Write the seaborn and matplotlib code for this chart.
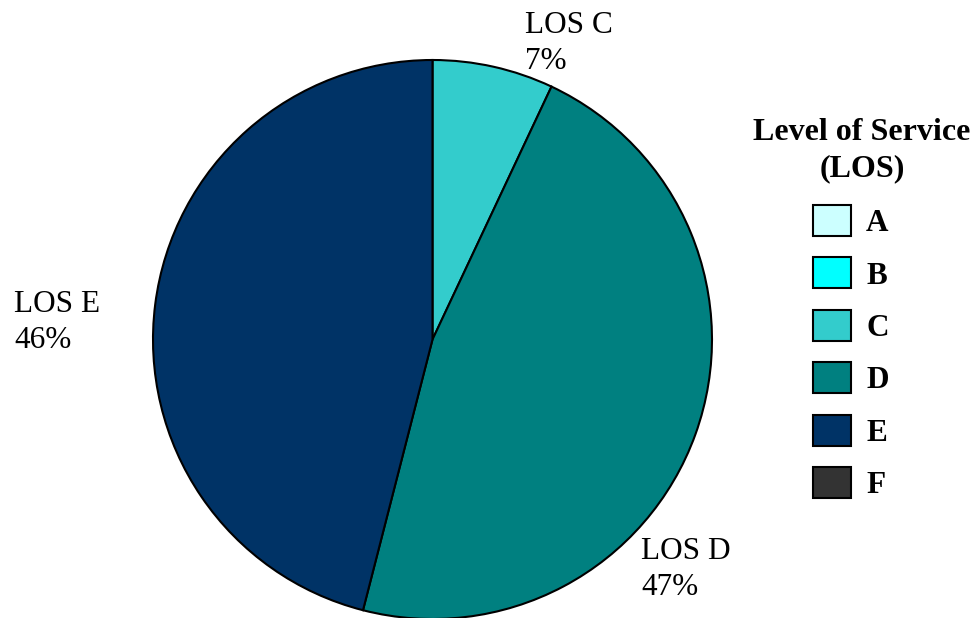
import matplotlib
matplotlib.use("Agg")
import matplotlib.pyplot as plt
from matplotlib.patches import Patch
import seaborn as sns

# Level-of-service shares
los_levels = ["A", "B", "C", "D", "E", "F"]
los_colors = ["#CCFFFF", "#00FFFF", "#33CCCC", "#008080", "#003366", "#333333"]
slice_levels = ["C", "D", "E"]
slice_shares = [7, 47, 46]
legend_title = "Level of Service\n(LOS)"

sns.set_style("white")
plt.rcParams["font.family"] = ["Liberation Serif", "DejaVu Serif"]
plt.rcParams["text.color"] = "black"

palette = dict(zip(los_levels, sns.color_palette(los_colors)))

fig = plt.figure(figsize=(9.76, 6.18), dpi=100)
ax = fig.add_axes([153 / 976, (618 - 619) / 618, 559 / 976, 559 / 618])

wedges, _ = ax.pie(
    slice_shares,
    colors=[palette[l] for l in slice_levels],
    startangle=90,
    counterclock=False,
    radius=1,
    wedgeprops=dict(edgecolor="black", linewidth=1.5),
)
ax.set_xlim(-1, 1)
ax.set_ylim(-1, 1)
ax.set_aspect("equal")
ax.axis("off")

# slice labels outside the pie (position = baseline of the percentage line)
label_pos = {"C": (525, 69), "D": (641, 595), "E": (14, 348)}
for lvl, share in zip(slice_levels, slice_shares):
    px, py = label_pos[lvl]
    fig.text(px / 976, 1 - py / 618, f"LOS {lvl}\n{share}%",
             fontsize=22.5, ha="left", va="baseline", color="black",
             linespacing=1.32)

# legend heading, centred above the swatches
fig.text(862 / 976, 1 - 176 / 618, legend_title, fontsize=23,
         fontweight="bold", ha="center", va="baseline",
         multialignment="center", linespacing=1.3, color="black")

handles = [Patch(facecolor=palette[l], edgecolor="black", linewidth=1.5)
           for l in los_levels]
leg = fig.legend(
    handles, los_levels,
    loc="upper left", bbox_to_anchor=(813 / 976, 1 - 205 / 618),
    frameon=False,
    prop=dict(size=22.5, weight="bold"),
    handlelength=1.2, handleheight=1.15, handletextpad=0.5,
    labelspacing=0.62, borderpad=0, borderaxespad=0,
)
for t in leg.get_texts():
    t.set_color("black")

fig.savefig("out.png", dpi=100)
